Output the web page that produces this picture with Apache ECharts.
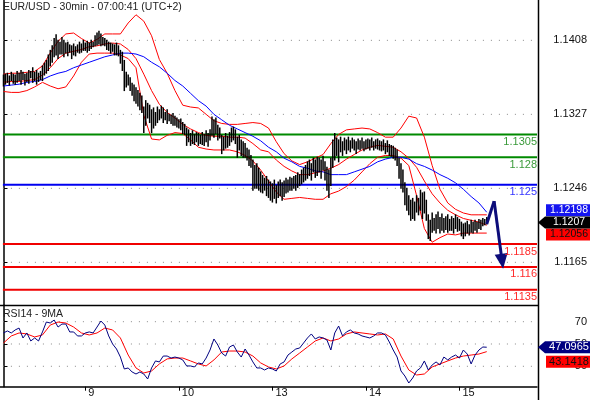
<!DOCTYPE html>
<html><head><meta charset="utf-8">
<script src="https://cdn.jsdelivr.net/npm/echarts@6/dist/echarts.min.js"></script>
<style>html,body{margin:0;padding:0;background:#fff}#c{width:590px;height:400px}</style>
</head><body><div id="c"></div>
<script>
const title = 'EUR/USD - 30min - 07:00:41 (UTC+2)';
const rsiTitle = 'RSI14 - 9MA';
const dayTicks = [42, 90, 138, 186, 234];
const dayLabels = ['9', '10', '13', '14', '15'];
const priceTicks = [1.1408, 1.1327, 1.1246, 1.1165];
const rsiTicks = [70, 50, 30];

const highs = [1.1370,1.1371,1.1372,1.1369,1.1373,1.1371,1.1370,1.1374,1.1372,1.1375,
1.1373,1.1371,1.1372,1.1375,1.1374,1.1378,1.1373,1.1375,1.1372,1.1374,
1.1380,1.1383,1.1386,1.1392,1.1397,1.1402,1.1410,1.1414,1.1408,1.1406,
1.1411,1.1408,1.1405,1.1406,1.1403,1.1402,1.1404,1.1401,1.1403,1.1406,
1.1404,1.1408,1.1405,1.1407,1.1405,1.1408,1.1406,1.1413,1.1416,1.1418,
1.1415,1.1411,1.1410,1.1408,1.1406,1.1405,1.1404,1.1403,1.1405,1.1402,
1.1397,1.1395,1.1386,1.1373,1.1370,1.1367,1.1361,1.1359,1.1356,1.1353,
1.1350,1.1347,1.1335,1.1342,1.1339,1.1337,1.1332,1.1334,1.1329,1.1335,
1.1332,1.1336,1.1334,1.1329,1.1332,1.1327,1.1326,1.1328,1.1325,1.1323,
1.1321,1.1322,1.1318,1.1316,1.1312,1.1310,1.1306,1.1309,1.1305,1.1307,
1.1306,1.1304,1.1307,1.1305,1.1309,1.1306,1.1310,1.1324,1.1321,1.1323,
1.1315,1.1312,1.1304,1.1302,1.1306,1.1303,1.1307,1.1312,1.1313,1.1310,
1.1302,1.1304,1.1299,1.1297,1.1295,1.1290,1.1288,1.1282,1.1277,1.1271,
1.1273,1.1268,1.1264,1.1260,1.1257,1.1259,1.1255,1.1253,1.1251,1.1255,
1.1249,1.1253,1.1255,1.1252,1.1254,1.1257,1.1255,1.1258,1.1257,1.1259,
1.1260,1.1263,1.1261,1.1266,1.1268,1.1271,1.1275,1.1277,1.1273,1.1279,
1.1277,1.1280,1.1279,1.1277,1.1281,1.1275,1.1269,1.1266,1.1279,1.1299,
1.1306,1.1301,1.1299,1.1302,1.1297,1.1301,1.1299,1.1302,1.1298,1.1301,
1.1299,1.1297,1.1300,1.1298,1.1301,1.1297,1.1299,1.1300,1.1299,1.1301,
1.1297,1.1299,1.1300,1.1298,1.1297,1.1299,1.1295,1.1298,1.1294,1.1293,
1.1292,1.1290,1.1288,1.1279,1.1273,1.1266,1.1252,1.1246,1.1238,1.1233,
1.1235,1.1231,1.1238,1.1235,1.1244,1.1241,1.1242,1.1233,1.1217,1.1211,
1.1219,1.1213,1.1217,1.1220,1.1214,1.1218,1.1213,1.1215,1.1217,1.1212,
1.1215,1.1213,1.1217,1.1214,1.1212,1.1209,1.1207,1.1208,1.1210,1.1206,
1.1211,1.1209,1.1211,1.1209,1.1212,1.1211,1.1213,1.1212,1.1214];

const lows = [1.1358,1.1360,1.1362,1.1359,1.1364,1.1361,1.1360,1.1362,1.1364,1.1360,
1.1365,1.1359,1.1363,1.1361,1.1367,1.1362,1.1364,1.1360,1.1363,1.1365,
1.1364,1.1370,1.1372,1.1375,1.1380,1.1384,1.1390,1.1392,1.1388,1.1393,
1.1393,1.1390,1.1394,1.1391,1.1395,1.1388,1.1392,1.1391,1.1395,1.1394,
1.1395,1.1397,1.1397,1.1395,1.1397,1.1399,1.1401,1.1402,1.1403,1.1404,
1.1402,1.1403,1.1402,1.1398,1.1397,1.1394,1.1396,1.1392,1.1392,1.1391,
1.1383,1.1375,1.1353,1.1357,1.1359,1.1353,1.1348,1.1342,1.1339,1.1336,
1.1332,1.1329,1.1307,1.1315,1.1323,1.1318,1.1307,1.1312,1.1315,1.1318,
1.1321,1.1323,1.1318,1.1321,1.1317,1.1320,1.1317,1.1315,1.1315,1.1313,
1.1312,1.1310,1.1306,1.1305,1.1293,1.1297,1.1293,1.1295,1.1294,1.1297,
1.1293,1.1295,1.1294,1.1293,1.1297,1.1292,1.1299,1.1304,1.1302,1.1306,
1.1299,1.1301,1.1284,1.1288,1.1290,1.1291,1.1293,1.1297,1.1299,1.1295,
1.1280,1.1288,1.1282,1.1280,1.1280,1.1277,1.1271,1.1269,1.1244,1.1246,
1.1246,1.1244,1.1242,1.1241,1.1244,1.1238,1.1236,1.1233,1.1231,1.1235,
1.1230,1.1236,1.1238,1.1233,1.1237,1.1241,1.1242,1.1244,1.1244,1.1246,
1.1244,1.1247,1.1249,1.1251,1.1253,1.1255,1.1257,1.1260,1.1255,1.1264,
1.1258,1.1260,1.1264,1.1257,1.1266,1.1255,1.1244,1.1236,1.1249,1.1269,
1.1277,1.1282,1.1275,1.1286,1.1282,1.1288,1.1284,1.1288,1.1286,1.1290,
1.1288,1.1284,1.1289,1.1288,1.1290,1.1287,1.1289,1.1290,1.1288,1.1291,
1.1288,1.1290,1.1289,1.1288,1.1287,1.1288,1.1284,1.1286,1.1282,1.1281,
1.1279,1.1277,1.1271,1.1257,1.1246,1.1242,1.1228,1.1222,1.1217,1.1211,
1.1213,1.1211,1.1220,1.1217,1.1222,1.1213,1.1219,1.1211,1.1191,1.1189,
1.1198,1.1200,1.1197,1.1202,1.1197,1.1200,1.1198,1.1201,1.1198,1.1200,
1.1200,1.1197,1.1202,1.1199,1.1200,1.1194,1.1191,1.1194,1.1197,1.1195,
1.1198,1.1197,1.1200,1.1198,1.1202,1.1201,1.1205,1.1206,1.1207];

// indicator values sampled every 4 bars
const bbUpper = [1.1371,1.1372,1.1372,1.1373,1.1374,1.1380,1.1394,1.1407,1.1415,1.1416,
1.1410,1.1405,1.1409,1.1415,1.1415,1.1415,1.1427,1.1436,1.1429,1.1413,
1.1387,1.1372,1.1353,1.1337,1.1335,1.1334,1.1327,1.1320,1.1317,1.1316,
1.1316,1.1317,1.1318,1.1317,1.1312,1.1297,1.1284,1.1276,1.1272,1.1275,
1.1279,1.1283,1.1295,1.1305,1.1310,1.1311,1.1312,1.1311,1.1307,1.1302,
1.1302,1.1312,1.1325,1.1323,1.1302,1.1271,1.1245,1.1230,1.1223,1.1219,
1.1217,1.1217,1.1217];
const bbMiddle = [1.1362,1.1363,1.1363,1.1364,1.1365,1.1370,1.1378,1.1388,1.1394,1.1396,
1.1398,1.1401,1.1402,1.1404,1.1405,1.1404,1.1398,1.1388,1.1371,1.1353,
1.1338,1.1329,1.1323,1.1316,1.1311,1.1307,1.1304,1.1303,1.1303,1.1302,
1.1302,1.1301,1.1295,1.1288,1.1286,1.1277,1.1270,1.1265,1.1261,1.1261,
1.1263,1.1265,1.1268,1.1272,1.1278,1.1283,1.1288,1.1291,1.1293,1.1292,
1.1291,1.1286,1.1279,1.1269,1.1254,1.1240,1.1230,1.1222,1.1217,1.1213,
1.1211,1.1209,1.12056];
const bbLower = [1.1352,1.1351,1.1351,1.1353,1.1357,1.1362,1.1358,1.1355,1.1357,1.1369,
1.1384,1.1393,1.1394,1.1394,1.1394,1.1392,1.1388,1.1378,1.1326,1.1300,
1.1299,1.1304,1.1307,1.1306,1.1299,1.1291,1.1289,1.1288,1.1288,1.1288,
1.1286,1.1282,1.1276,1.1266,1.1254,1.1242,1.1234,1.1235,1.1236,1.1235,
1.1234,1.1234,1.1240,1.1243,1.1248,1.1255,1.1264,1.1273,1.1280,1.1282,
1.1282,1.1279,1.1271,1.1238,1.1202,1.1187,1.1192,1.1196,1.1195,1.1197,
1.1197,1.1197,1.1197];
const maBlue = [1.1358,1.1359,1.1360,1.1362,1.1363,1.1365,1.1369,1.1372,1.1374,1.1378,
1.1381,1.1384,1.1387,1.1390,1.1392,1.1394,1.1394,1.1393,1.1390,1.1384,
1.1379,1.1372,1.1364,1.1358,1.1350,1.1342,1.1336,1.1327,1.1321,1.1315,
1.1311,1.1307,1.1303,1.1298,1.1291,1.1286,1.1279,1.1275,1.1270,1.1268,
1.1265,1.1264,1.1261,1.1261,1.1261,1.1264,1.1267,1.1270,1.1275,1.1278,
1.1280,1.1280,1.1278,1.1273,1.1270,1.1266,1.1261,1.1257,1.1252,1.1245,
1.1237,1.1230,1.12198];

// RSI every 2 bars, RSI MA every 4 bars
const rsi = [59.9,61.7,59.9,62.6,64.3,55.4,59.9,52.7,55.4,52.7,
60.8,69.7,68.8,71.5,65.2,67.9,67.9,60.8,60.8,57.2,
57.2,59.9,60.8,59.9,65.2,70.6,67.0,57.2,50.0,45.5,
38.3,27.6,28.5,24.9,23.1,24.9,23.1,18.6,28.5,34.8,
33.9,39.2,39.2,37.4,38.3,37.4,35.7,30.3,30.3,29.4,
33.0,32.1,37.4,44.6,54.5,49.1,41.9,39.2,47.3,49.1,
42.8,38.3,45.5,40.1,33.9,28.5,28.5,26.7,28.5,27.6,
25.8,32.1,33.9,40.1,42.8,45.5,46.4,50.9,55.4,59.0,
54.5,56.3,55.4,53.6,44.6,59.9,66.1,57.2,60.8,62.6,
59.9,59.0,57.2,56.3,55.4,57.2,59.9,59.9,58.1,51.8,
44.6,38.3,25.8,21.3,15.0,19.5,25.8,28.5,34.8,26.7,
31.2,33.9,31.2,38.3,35.7,38.3,40.1,37.4,44.6,41.0,
32.1,40.1,44.6,47.3,47.0965];
const rsiMa = [50.9,57.2,59.9,59.0,56.3,58.1,67.0,69.7,68.8,65.2,
59.9,58.1,59.9,64.3,62.6,55.4,40.1,28.5,24.0,25.8,
32.1,36.6,37.4,37.4,34.8,32.1,30.3,35.7,42.8,43.7,
43.7,42.8,39.2,33.0,29.4,27.6,30.3,36.6,41.9,47.3,
52.7,55.4,52.7,54.5,59.0,60.8,59.9,59.0,58.1,59.0,
54.5,39.2,26.7,22.2,23.1,29.4,32.1,34.8,37.4,39.2,
40.1,41.0,43.1418];

const levels = [1.1305, 1.128, 1.125, 1.1185, 1.116, 1.1135];
const levelNames = ['1.1305', '1.128', '1.125', '1.1185', '1.116', '1.1135'];
const lastClose = 1.1207;
const arrowPath = [[248, 1.1207], [251.8, 1.1232], [255.9, 1.1166]];

const levelColors = ['#008a00', '#008a00', '#0000f0', '#f00000', '#f00000', '#f00000'];
const levelTextColors = ['#3a9a3a', '#3a9a3a', '#3333ff', '#ff2a2a', '#ff2a2a', '#ff2a2a'];
const FONT = '"Liberation Sans", Arial, sans-serif';
const XMIN = -1.79, XMAX = 273.8, XLINE0 = -0.3;

const step = (arr, s) => arr.map((v, i) => [i * s, v]);
const bars = highs.map((h, i) => [i, h, lows[i]]);

const chart = echarts.init(document.getElementById('c'), null, {renderer: 'canvas'});
const lineS = (data, color, extra) => Object.assign({
  type: 'line', data, xAxisIndex: 0, yAxisIndex: 0, showSymbol: false, symbol: 'none',
  lineStyle: {color, width: 1}, itemStyle: {color}, silent: true, z: 3, animation: false
}, extra || {});
const hLine = (v, color, width, type, axisIdx, z) => lineS([[XLINE0, v], [XMAX, v]], color, {
  xAxisIndex: axisIdx, yAxisIndex: axisIdx, z, lineStyle: {color, width, type}
});

const series = [];
priceTicks.forEach(v => series.push(hLine(v, '#8a8a8a', 1, [1, 7], 0, 1)));
rsiTicks.forEach(v => series.push(hLine(v, '#8a8a8a', 1, [1, 7], 1, 1)));
levels.forEach((v, i) => series.push(hLine(v, levelColors[i], 2, 'solid', 0, 2)));
series.push(
  lineS(step(bbUpper, 4), '#ff0000'),
  lineS(step(bbMiddle, 4), '#ff0000'),
  lineS(step(bbLower, 4), '#ff0000'),
  lineS(step(maBlue, 4), '#0000ff'),
  {
    type: 'custom', xAxisIndex: 0, yAxisIndex: 0, data: bars, z: 5, silent: true, animation: false,
    renderItem: (params, api) => {
      const x = api.value(0);
      const hi = api.coord([x, api.value(1)]);
      const lo = api.coord([x, api.value(2)]);
      return {type: 'line', shape: {x1: hi[0], y1: hi[1] - 0.5, x2: hi[0], y2: lo[1] + 0.5},
        style: {stroke: '#000', lineWidth: 1.5}};
    }
  },
  lineS(arrowPath.slice(0, 2), '#0c0c7a', {
    z: 6, lineStyle: {color: '#0c0c7a', width: 3},
    markLine: {
      silent: true, animation: false, symbol: ['none', 'triangle'], symbolSize: [13, 15],
      lineStyle: {color: '#0c0c7a', width: 3, type: 'solid'}, label: {show: false},
      data: [[{coord: arrowPath[1]}, {coord: arrowPath[2]}]]
    }
  }),
  lineS(step(rsi, 2), '#000080', {xAxisIndex: 1, yAxisIndex: 1, z: 4}),
  lineS(step(rsiMa, 4), '#ff0000', {xAxisIndex: 1, yAxisIndex: 1, z: 3})
);

const option = {
  animation: false,
  grid: [
    {left: 0, top: 0, width: 538, height: 305.3},
    {left: 0, top: 305.3, width: 538, height: 81.4}
  ],
  xAxis: [
    {type: 'value', gridIndex: 0, min: XMIN, max: XMAX, show: false},
    {type: 'value', gridIndex: 1, min: XMIN, max: XMAX,
      axisLine: {show: true, lineStyle: {color: '#000', width: 1.5}},
      axisTick: {show: true, customValues: dayTicks, length: 4, lineStyle: {color: '#000'}},
      axisLabel: {customValues: dayTicks, formatter: v => dayLabels[dayTicks.indexOf(v)],
        align: 'left', padding: [0, 0, 0, 3], margin: 1, fontSize: 11, fontFamily: FONT, color: '#111'},
      splitLine: {show: false}}
  ],
  yAxis: [
    {type: 'value', gridIndex: 0, position: 'right', min: 1.111796, max: 1.145215,
      axisLine: {show: true, lineStyle: {color: '#000', width: 1.5}},
      axisTick: {show: true, customValues: priceTicks, length: 4, lineStyle: {color: '#000'}},
      axisLabel: {customValues: priceTicks, formatter: v => v.toFixed(4), align: 'right', margin: 50,
        fontSize: 11, fontFamily: FONT, color: '#111'},
      splitLine: {show: false}},
    {type: 'value', gridIndex: 1, position: 'right', min: 11.7, max: 84.7,
      axisLine: {show: true, lineStyle: {color: '#000', width: 1.5}},
      axisTick: {show: true, customValues: rsiTicks, length: 4, lineStyle: {color: '#000'}},
      axisLabel: {customValues: rsiTicks, formatter: v => String(v), align: 'right', margin: 50,
        fontSize: 11, fontFamily: FONT, color: '#111'},
      splitLine: {show: false}}
  ],
  series
};
chart.setOption(option);

function tag(cy, text, bg, fg, arrow, fs) {
  const pts = arrow
    ? [[538, cy], [545, cy - 6], [590, cy - 6], [590, cy + 6], [545, cy + 6]]
    : [[546, cy - 6], [590, cy - 6], [590, cy + 6], [546, cy + 6]];
  return [
    {type: 'polygon', shape: {points: pts}, style: {fill: bg}, z: 100},
    {type: 'text', x: 569, y: cy, z: 101,
      style: {text, fill: fg, font: fs + 'px ' + FONT, align: 'center', verticalAlign: 'middle'}}
  ];
}
const yClose = chart.convertToPixel({yAxisIndex: 0}, lastClose) - 1.5;
const yRsi = chart.convertToPixel({yAxisIndex: 1}, rsi[rsi.length - 1]);
let graphics = [
  {type: 'line', shape: {x1: 538.5, y1: 0, x2: 538.5, y2: 400}, style: {stroke: '#000', lineWidth: 1.5}, z: 50},
  {type: 'line', shape: {x1: 0, y1: 305.5, x2: 538, y2: 305.5}, style: {stroke: '#000', lineWidth: 1.5}, z: 50},
  {type: 'text', x: 3, y: 2, z: 50, style: {text: title, fill: '#222', font: '10.5px ' + FONT}},
  {type: 'text', x: 3, y: 309, z: 50, style: {text: rsiTitle, fill: '#222', font: '10.5px ' + FONT}}
];
levels.forEach((v, i) => {
  const y = chart.convertToPixel({yAxisIndex: 0}, v);
  graphics.push({type: 'text', x: 537, y: y + 2, z: 40,
    style: {text: levelNames[i], fill: levelTextColors[i], font: '11px ' + FONT, align: 'right', verticalAlign: 'top'}});
});
graphics = graphics.concat(
  tag(yClose - 12.3, maBlue[maBlue.length - 1].toFixed(5), '#1414f0', '#fff', false, 10.5),
  tag(yClose + 12, bbMiddle[bbMiddle.length - 1].toFixed(5), '#ff0000', '#111', false, 10.5),
  tag(yClose, lastClose.toFixed(4), '#000', '#fff', true, 10.5),
  tag(yRsi, rsi[rsi.length - 1].toFixed(4), '#000080', '#fff', true, 11),
  tag(yRsi + 14.5, rsiMa[rsiMa.length - 1].toFixed(4), '#ff0000', '#111', false, 11)
);
chart.setOption({graphic: graphics});
</script></body></html>
